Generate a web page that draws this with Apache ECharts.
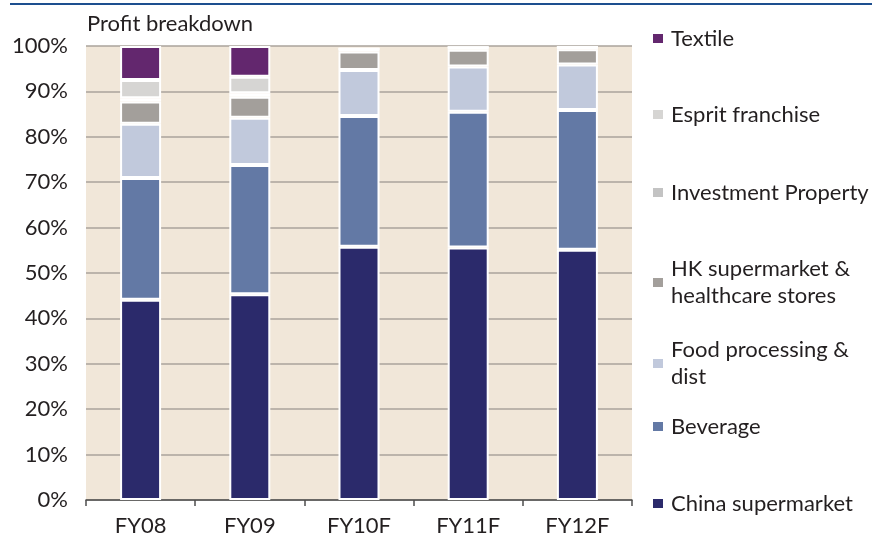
<!DOCTYPE html>
<html>
<head>
<meta charset="utf-8">
<script src="https://cdn.jsdelivr.net/npm/echarts@6/dist/echarts.min.js"></script>
<style>
html,body{margin:0;padding:0;background:#fff;}
#chart{width:872px;height:545px;}
</style>
</head>
<body>
<div id="chart"></div>
<script>
var categories = ['FY08', 'FY09', 'FY10F', 'FY11F', 'FY12F'];
var chinaSupermarket = [44.1, 45.3, 55.8, 55.6, 55.1];
var beverage = [26.8, 28.5, 28.8, 29.9, 30.8];
var foodProcessing = [12.0, 10.4, 10.1, 10.0, 10.0];
var hkSupermarket = [4.9, 4.6, 4.1, 3.7, 3.4];
var investmentProperty = [0.7, 0.8, 0.6, 0.5, 0.5];
var espritFranchise = [4.0, 3.6, 0, 0, 0];
var textile = [7.5, 6.8, 0, 0, 0];
var yTicks = [0, 10, 20, 30, 40, 50, 60, 70, 80, 90, 100];

var FONT = 'Lato, "Noto Sans", sans-serif';
var FS = 22;
var seriesDefs = [
  {name: 'China supermarket', data: chinaSupermarket, color: '#2b2a6b'},
  {name: 'Beverage', data: beverage, color: '#6379a5'},
  {name: 'Food processing &\ndist', data: foodProcessing, color: '#c1c9dc'},
  {name: 'HK supermarket &\nhealthcare stores', data: hkSupermarket, color: '#a39f9b'},
  {name: 'Investment Property', data: investmentProperty, color: '#c3c3c3'},
  {name: 'Esprit franchise', data: espritFranchise, color: '#d6d5d3'},
  {name: 'Textile', data: textile, color: '#63276e'}
];

var legendTops = {
  'Textile': 38,
  'Esprit franchise': 114,
  'Investment Property': 192,
  'HK supermarket &\nhealthcare stores': 268,
  'Food processing &\ndist': 349,
  'Beverage': 426,
  'China supermarket': 503
};
var LH = 27;
var legends = seriesDefs.map(function (s) {
  var multi = s.name.indexOf('\n') >= 0;
  return {
    data: [s.name],
    left: 646,
    top: legendTops[s.name] - (multi ? LH + 4 : 18),
    orient: 'vertical',
    icon: 'rect',
    itemWidth: 12,
    itemHeight: 11,
    selectedMode: false,
    textStyle: {
      fontFamily: FONT,
      fontSize: FS,
      color: '#231f20',
      lineHeight: LH,
      padding: multi ? [LH, 0, 0, 2] : [0, 0, 0, 2]
    }
  };
});

var chart = echarts.init(document.getElementById('chart'), null, {renderer: 'canvas'});
chart.setOption({
  animation: false,
  backgroundColor: '#ffffff',
  title: {
    text: 'Profit breakdown',
    left: 82,
    top: 8,
    textStyle: {fontFamily: FONT, fontSize: FS, fontWeight: 'normal', color: '#231f20'}
  },
  graphic: [{
    type: 'line',
    shape: {x1: 10, y1: 4, x2: 872, y2: 4},
    style: {stroke: '#1d4f8f', lineWidth: 2}
  }],
  legend: legends,
  grid: {left: 86, right: 240, top: 46, bottom: 45, show: true, backgroundColor: '#f1e7d9', borderWidth: 0},
  xAxis: {
    type: 'category',
    data: categories,
    axisLine: {lineStyle: {color: '#4d4d4d', width: 1.5}},
    axisTick: {show: true, length: 6, lineStyle: {color: '#4d4d4d', width: 1.5}},
    axisLabel: {fontFamily: FONT, fontSize: FS, color: '#231f20', margin: 15}
  },
  yAxis: {
    type: 'value',
    min: yTicks[0],
    max: yTicks[yTicks.length - 1],
    interval: 10,
    axisLine: {show: false},
    axisTick: {show: false},
    splitLine: {lineStyle: {color: '#aaa39b', width: 1.5}},
    axisLabel: {fontFamily: FONT, fontSize: FS, color: '#231f20', margin: 18, formatter: '{value}%'}
  },
  series: seriesDefs.map(function (s) {
    return {
      name: s.name,
      type: 'bar',
      stack: 'total',
      data: s.data,
      barWidth: 41,
      itemStyle: {color: s.color, borderColor: '#ffffff', borderWidth: 2}
    };
  })
});
</script>
</body>
</html>
